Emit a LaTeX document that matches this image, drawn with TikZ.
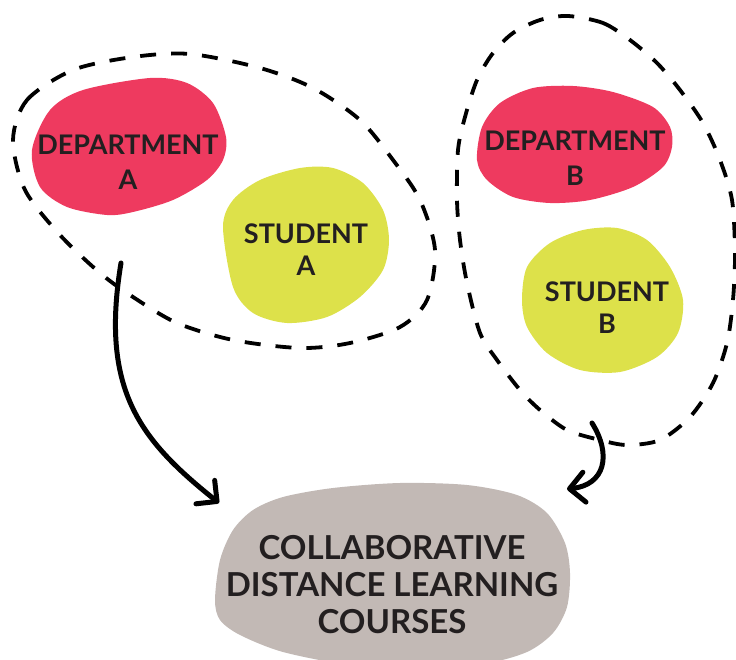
\documentclass[tikz,border=0pt]{standalone}
\usepackage{fontspec}
\setmainfont{Lato}
\usetikzlibrary{arrows.meta}
\definecolor{deptred}{HTML}{EE3A5F}
\definecolor{studyellow}{HTML}{DDE14A}
\definecolor{coursegray}{HTML}{C2B9B5}
\definecolor{inkdark}{HTML}{231F20}

\begin{document}
\begin{tikzpicture}
[x=1pt, y=-1pt, every node/.style={text=inkdark, align=center, inner sep=0pt},
label small/.style={font=\fontsize{27}{35}\selectfont\bfseries},
label student/.style={font=\fontsize{27}{32}\selectfont\bfseries},
label big/.style={font=\fontsize{33}{37}\selectfont\bfseries},
group line/.style={draw=black, line width=3.8pt, dash pattern=on 16pt off 15pt},
brush arrow/.style={line width=5pt, line cap=round, -{Straight Barb[length=15pt,width=30pt,round]}}]
\useasboundingbox (0,0) rectangle (736,660);

% blobs
\fill[deptred] plot[smooth cycle] coordinates {(32,150) (50,110) (83,90) (150,78) (187,83) (213,103) (226,137) (223,160) (207,180) (173,200) (133,212) (107,215) (67,207) (40,187)};
\fill[studyellow] plot[smooth cycle] coordinates {(223,227) (233,200) (260,180) (300,168) (333,168) (363,183) (383,210) (389,240) (383,270) (360,297) (327,317) (287,323) (253,313) (233,287)};
\fill[deptred] plot[smooth cycle] coordinates {(477,160) (482,127) (500,103) (533,88) (573,86) (613,92) (653,107) (670,127) (672,147) (663,167) (633,187) (590,200) (550,203) (513,197) (487,180)};
\fill[studyellow] plot[smooth cycle] coordinates {(522,300) (527,267) (550,243) (583,230) (617,228) (647,240) (670,267) (683,300) (678,333) (657,357) (620,372) (580,370) (547,353) (527,327)};
\fill[coursegray] plot[smooth cycle] coordinates {(215,600) (220,560) (233,530) (253,510) (283,497) (333,488) (400,483) (467,485) (517,495) (547,513) (565,543) (570,573) (567,607) (553,633) (527,652) (483,664) (417,668) (350,665) (283,652) (240,635) (220,620)};

\node[label small] (deptA) at (128,162) {DEPARTMENT\\A};
\node[label student] (studA) at (306,250) {STUDENT\\A};
\node[label small] (deptB) at (575,158) {DEPARTMENT\\B};
\node[label student] (studB) at (607,308) {STUDENT\\B};
\node[label big] (courses) at (392,585) {COLLABORATIVE\\DISTANCE LEARNING\\COURSES};

% groups
\draw[group line] plot[smooth cycle] coordinates {(13,140) (27,100) (73,70) (133,57) (190,54) (260,68) (313,88) (360,120) (393,160) (420,200) (435,250) (427,300) (400,327) (350,343) (300,348) (233,340) (177,323) (133,297) (100,273) (60,235) (25,190)};
\draw[group line] plot[smooth cycle] coordinates {(568,16) (603,23) (630,40) (657,63) (680,90) (703,123) (720,160) (732,200) (735,253) (733,300) (727,343) (713,383) (690,417) (660,440) (627,445) (600,440) (567,430) (540,410) (520,390) (497,360) (480,333) (467,283) (460,240) (457,200) (458,150) (465,117) (477,80) (493,53) (513,33) (540,20)};

\coordinate (groupA) at (121,263);
\coordinate (groupB) at (592,423);
\coordinate (inA) at (219,503);
\coordinate (inB) at (567,489);
\draw[brush arrow] (groupA) .. controls (100,390) and (140,440) .. (inA);
\draw[brush arrow] (groupB) .. controls (612,455) and (605,485) .. (inB);
\end{tikzpicture}
\end{document}
